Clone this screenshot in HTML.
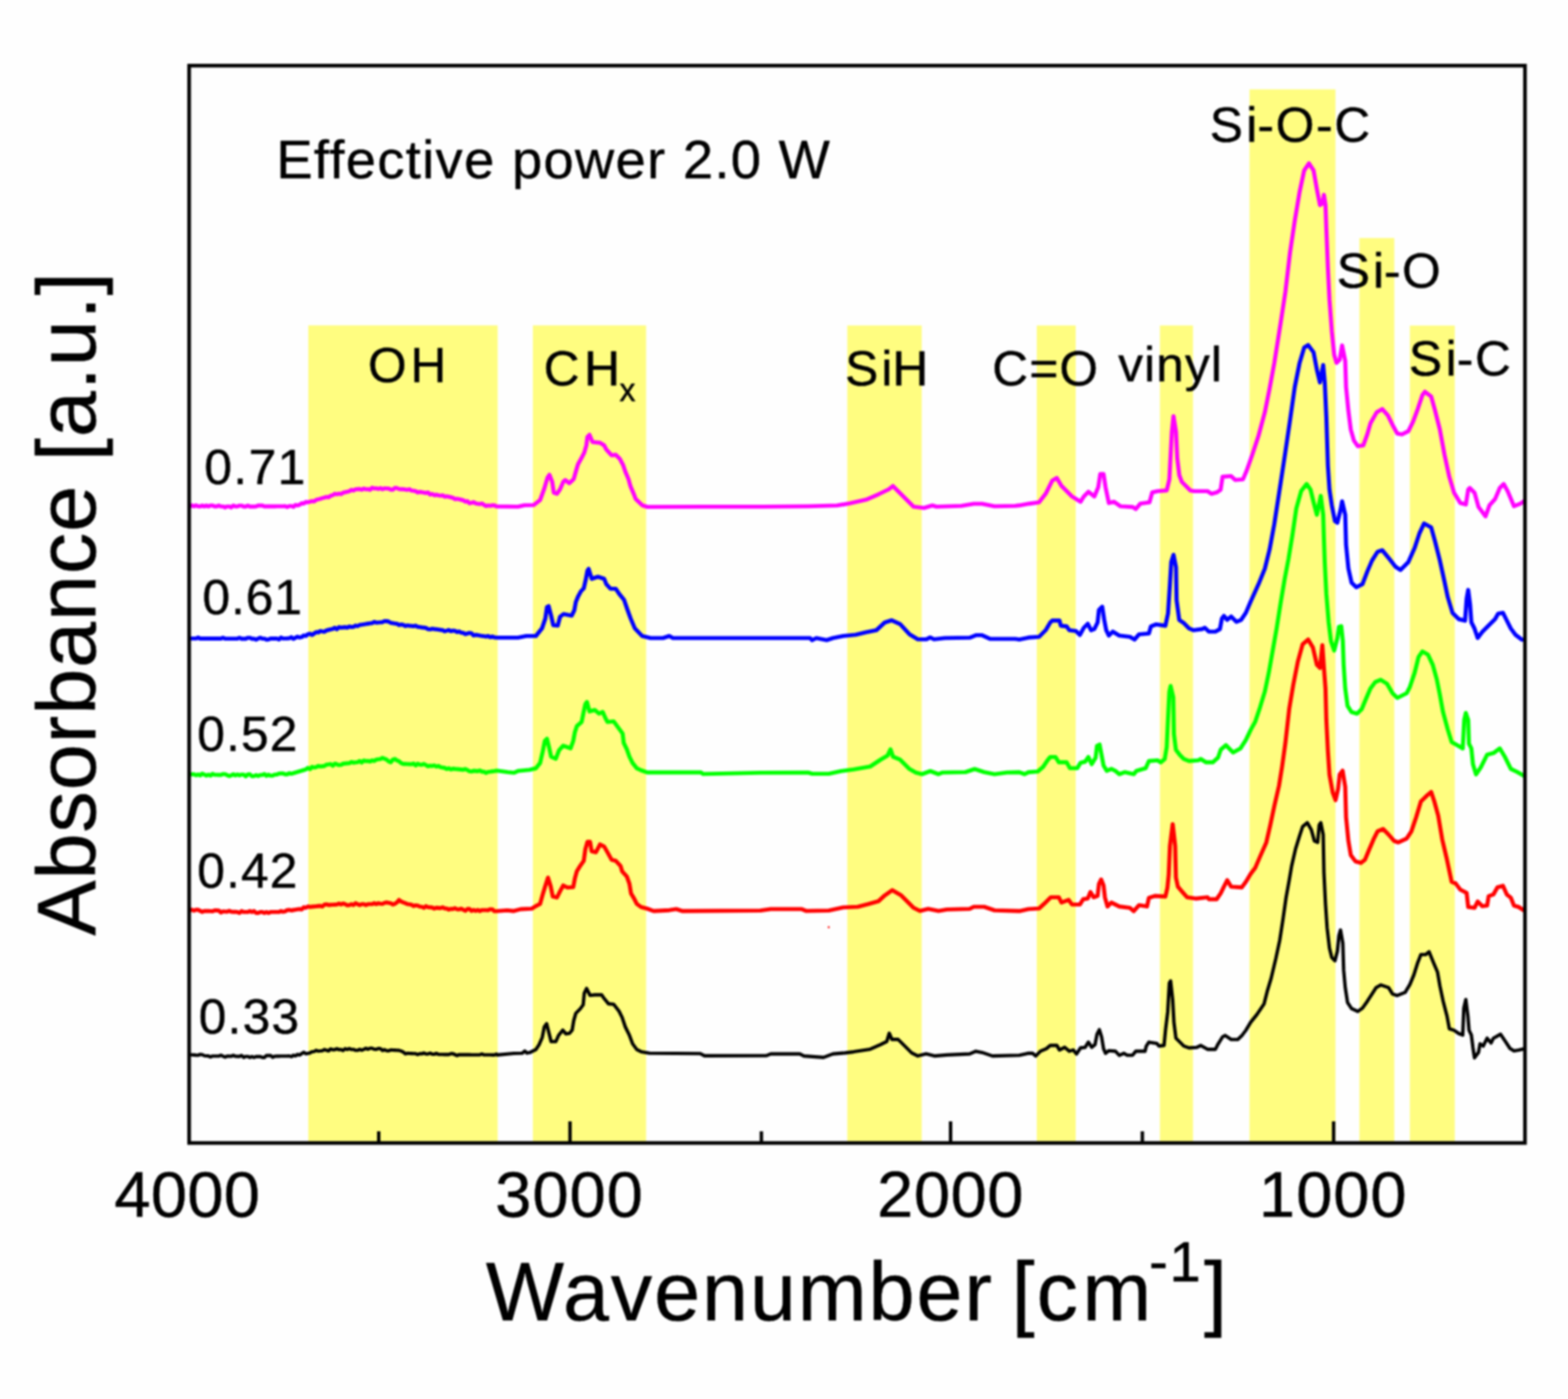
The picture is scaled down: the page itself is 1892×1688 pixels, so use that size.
<!DOCTYPE html>
<html lang="en"><head><meta charset="utf-8"><title>FTIR absorbance spectra</title>
<style>html,body{margin:0;padding:0;background:#fefefe;width:1892px;height:1688px}svg{display:block;filter:blur(0.8px)}text{font-family:'Liberation Sans', sans-serif;fill:#000;stroke:#000;stroke-width:0.5px;stroke-linejoin:round}</style></head>
<body>
<svg width="1892" height="1688" viewBox="0 0 1892 1688" role="img" aria-label="FTIR absorbance spectra at effective power 2.0 W">
<rect x="0" y="0" width="1892" height="1688" fill="#fefefe"/>
<g fill="#fffd80">
<rect x="372" y="392.6" width="228.5" height="986.5"/>
<rect x="643" y="392.6" width="136.6" height="986.5"/>
<rect x="1022.4" y="392.7" width="89.8" height="986.4"/>
<rect x="1251" y="392.7" width="47.0" height="986.4"/>
<rect x="1399.6" y="392.7" width="39.9" height="986.4"/>
<rect x="1507.7" y="107.8" width="103.7" height="1271.3"/>
<rect x="1640.3" y="287.2" width="42.1" height="1091.9"/>
<rect x="1701.2" y="392.8" width="54.2" height="986.3"/>
</g>
<g stroke="#000" stroke-width="4.1" fill="none">
<line x1="687.8" y1="1353" x2="687.8" y2="1379.1"/>
<line x1="1147" y1="1353" x2="1147" y2="1379.1"/>
<line x1="1609.2" y1="1353" x2="1609.2" y2="1379.1"/>
<line x1="457" y1="1365" x2="457" y2="1379.1"/>
<line x1="918.7" y1="1365" x2="918.7" y2="1379.1"/>
<line x1="1378.4" y1="1365" x2="1378.4" y2="1379.1"/>
</g>
<g>
<text x="333.5" y="215.3" font-size="65.5" letter-spacing="1.60">Effective power 2.0 W</text>
<text x="444.1" y="461" font-size="60" letter-spacing="4.50">OH</text>
<text><tspan x="656.0" y="465.3" font-size="60" letter-spacing="5.50">CH</tspan><tspan x="747.4" y="484.2" font-size="38.5">x</tspan></text>
<text x="1019.7" y="464.8" font-size="60" letter-spacing="1.90">S<tspan dx="2.0">i</tspan><tspan dx="-2.0">H</tspan></text>
<text x="1197.3" y="464.9" font-size="60" letter-spacing="1.30">C=O</text>
<text x="1349.2" y="459.7" font-size="60" letter-spacing="1.30">vinyl</text>
<text x="1459.7" y="170.9" font-size="60" letter-spacing="2.06">S<tspan dx="2.0">i</tspan><tspan dx="-2.0">-O-C</tspan></text>
<text x="1613.0" y="347.2" font-size="60" letter-spacing="1.83">S<tspan dx="2.0">i</tspan><tspan dx="-2.0">-O</tspan></text>
<text x="1700.0" y="453.4" font-size="60" letter-spacing="2.17">S<tspan dx="2.0">i</tspan><tspan dx="-2.0">-C</tspan></text>
<text x="246.6" y="583.6" font-size="60" letter-spacing="1.65">0.71</text>
<text x="244.3" y="741.1" font-size="60" letter-spacing="1.10">0.61</text>
<text x="238.0" y="906.1" font-size="60" letter-spacing="1.33">0.52</text>
<text x="238.0" y="1071.1" font-size="60" letter-spacing="1.33">0.42</text>
<text x="239.8" y="1247.1" font-size="60" letter-spacing="1.43">0.33</text>
<text x="138.0" y="1468.2" font-size="78.5" letter-spacing="0.33">4000</text>
<text x="597.6" y="1468.2" font-size="78.5" letter-spacing="1.13">3000</text>
<text x="1058.3" y="1468.2" font-size="78.5" letter-spacing="0.70">2000</text>
<text x="1519.1" y="1468.2" font-size="78.5" letter-spacing="1.15">1000</text>
<text><tspan x="586.3" y="1593.2" font-size="100" letter-spacing="2.18">Wavenumber </tspan><tspan x="1220.7" y="1593.2" font-size="100">[</tspan><tspan x="1250.7" y="1593.2" font-size="100" letter-spacing="5.40">cm</tspan><tspan x="1386.5" y="1546" font-size="68">-</tspan><tspan x="1411.0" y="1546" font-size="68">1</tspan><tspan x="1452.7" y="1593.2" font-size="100">]</tspan></text>
<text transform="translate(115.2,1129.0) rotate(-90)" font-size="100" letter-spacing="1.03">Absorbance [a.u.]</text>
</g>
<g fill="none" stroke-linejoin="round" stroke-linecap="butt">
<path d="M228.0,1272.4 L229.0,1272.5 L231.5,1272.7 L234.0,1272.9 L236.5,1273.1 L239.0,1273.2 L241.5,1272.3 L244.0,1272.5 L246.5,1273.8 L249.0,1274.0 L251.5,1274.1 L254.0,1275.3 L256.5,1274.2 L259.0,1274.2 L261.5,1274.2 L264.0,1274.3 L266.5,1273.2 L269.0,1274.3 L271.5,1275.5 L274.0,1274.4 L276.5,1274.4 L279.0,1274.5 L281.5,1273.4 L284.0,1274.5 L286.5,1274.6 L289.0,1274.6 L291.5,1273.5 L294.0,1275.8 L296.5,1274.7 L299.0,1274.7 L301.5,1275.9 L304.0,1274.8 L306.5,1275.9 L309.0,1274.9 L311.5,1274.9 L314.0,1274.9 L316.5,1275.9 L319.0,1275.9 L321.5,1273.6 L324.0,1273.6 L326.5,1273.5 L329.0,1275.6 L331.5,1274.5 L334.0,1274.4 L336.5,1274.4 L339.0,1274.3 L341.5,1274.3 L344.0,1274.2 L346.5,1274.2 L349.0,1274.1 L351.5,1274.9 L354.0,1273.3 L356.5,1273.9 L359.0,1272.3 L361.5,1272.9 L364.0,1271.3 L366.5,1269.7 L369.0,1271.4 L371.5,1270.9 L374.0,1270.4 L376.5,1269.0 L379.0,1268.7 L381.5,1267.4 L384.0,1268.2 L386.5,1268.0 L389.0,1267.7 L391.5,1266.4 L394.0,1267.2 L396.5,1268.0 L399.0,1265.6 L401.5,1266.6 L404.0,1266.5 L406.5,1265.4 L409.0,1266.5 L411.5,1266.4 L414.0,1267.5 L416.5,1265.3 L419.0,1266.3 L421.5,1265.2 L424.0,1266.3 L426.5,1266.2 L429.0,1267.3 L431.5,1267.3 L434.0,1266.1 L436.5,1267.2 L439.0,1266.1 L441.5,1264.9 L444.0,1266.0 L446.5,1264.8 L449.0,1264.8 L451.5,1266.0 L454.0,1266.1 L456.5,1265.1 L459.0,1265.2 L461.5,1267.5 L464.0,1266.5 L466.5,1267.8 L469.0,1267.9 L471.5,1266.9 L474.0,1267.0 L476.5,1267.1 L479.0,1267.2 L481.5,1267.4 L484.0,1268.1 L486.5,1269.3 L489.0,1271.5 L491.5,1270.9 L494.0,1271.0 L496.5,1271.1 L499.0,1271.2 L501.5,1271.3 L504.0,1272.4 L506.5,1271.4 L509.0,1271.5 L511.5,1270.5 L514.0,1271.7 L516.5,1271.7 L519.0,1270.7 L521.5,1271.9 L524.0,1272.0 L526.5,1271.0 L529.0,1272.1 L531.5,1272.2 L534.0,1272.3 L536.5,1272.4 L539.0,1272.4 L541.5,1272.4 L544.0,1271.4 L546.5,1271.4 L549.0,1272.5 L551.5,1273.6 L554.0,1272.5 L556.5,1272.6 L559.0,1272.6 L561.5,1272.6 L564.0,1272.6 L566.5,1272.6 L569.0,1272.7 L571.5,1272.7 L574.0,1272.7 L576.5,1272.7 L579.0,1272.7 L581.5,1271.7 L584.0,1272.8 L586.5,1272.8 L589.0,1272.8 L591.5,1272.8 L594.0,1272.9 L596.5,1272.9 L599.0,1271.8 L600.0,1272.9 L620.0,1271.0 L630.0,1270.8 L633.3,1268.2 L636.0,1270.6 L639.0,1270.1 L646.6,1266.4 L650.4,1260.6 L654.3,1251.7 L656.8,1239.0 L659.6,1235.2 L662.5,1246.7 L665.0,1256.8 L670.7,1256.8 L674.0,1249.2 L679.0,1242.9 L682.8,1247.4 L687.2,1246.7 L690.4,1242.9 L692.3,1231.4 L694.8,1222.6 L700.0,1217.4 L703.7,1212.4 L705.0,1198.4 L707.8,1192.7 L712.0,1201.0 L717.7,1200.4 L726.0,1200.4 L729.0,1204.8 L734.2,1211.1 L740.5,1211.8 L746.9,1220.0 L750.7,1227.6 L754.5,1239.0 L759.5,1249.2 L763.3,1259.4 L768.4,1266.4 L773.5,1268.9 L783.6,1270.8 L845.0,1271.2 L850.0,1273.9 L925.0,1273.6 L930.0,1271.6 L965.0,1271.6 L970.0,1274.1 L993.7,1275.9 L1005.0,1271.6 L1020.0,1270.4 L1030.0,1269.1 L1050.0,1265.9 L1062.5,1260.4 L1070.0,1256.6 L1073.0,1246.6 L1076.2,1254.1 L1083.7,1254.1 L1092.5,1262.9 L1100.0,1270.4 L1107.5,1274.1 L1117.5,1271.6 L1127.5,1274.1 L1142.5,1272.9 L1170.0,1271.6 L1177.5,1268.4 L1185.0,1269.9 L1197.5,1274.1 L1230.0,1273.3 L1240.3,1270.9 L1245.9,1270.9 L1249.8,1274.1 L1255.4,1268.4 L1262.5,1265.4 L1267.3,1261.4 L1275.2,1261.4 L1278.4,1266.9 L1284.8,1263.7 L1290.3,1268.4 L1295.0,1266.9 L1299.0,1271.7 L1303.8,1264.4 L1309.4,1263.7 L1313.3,1257.4 L1317.3,1263.7 L1321.3,1260.4 L1323.7,1247.9 L1326.5,1242.4 L1329.2,1251.0 L1331.6,1265.4 L1334.0,1270.9 L1338.0,1267.7 L1345.9,1268.4 L1350.6,1273.3 L1356.2,1270.9 L1360.2,1273.3 L1366.5,1273.3 L1370.5,1268.4 L1381.6,1268.4 L1383.2,1262.1 L1386.3,1257.4 L1395.9,1259.0 L1398.3,1262.1 L1404.6,1261.4 L1406.5,1241.4 L1409.0,1220.9 L1411.0,1186.0 L1412.5,1183.6 L1415.0,1206.6 L1416.5,1233.6 L1418.9,1252.6 L1423.7,1257.4 L1428.4,1262.1 L1434.8,1264.4 L1444.3,1263.7 L1449.0,1261.4 L1457.0,1266.1 L1466.5,1266.1 L1469.7,1259.8 L1475.2,1251.0 L1478.4,1249.4 L1485.6,1254.2 L1493.5,1254.2 L1499.0,1248.9 L1503.3,1243.1 L1509.0,1233.6 L1516.6,1224.1 L1525.2,1211.4 L1529.0,1196.4 L1533.8,1180.4 L1539.5,1156.4 L1544.2,1134.4 L1548.0,1109.7 L1551.8,1083.1 L1555.6,1062.1 L1558.5,1045.0 L1563.3,1024.1 L1568.0,1008.9 L1571.8,997.4 L1577.5,992.7 L1582.3,1001.2 L1586.0,1014.6 L1589.9,1016.4 L1591.8,995.4 L1593.7,992.7 L1596.6,1007.0 L1597.5,1052.6 L1599.4,1090.7 L1601.3,1119.2 L1604.2,1143.9 L1607.0,1155.4 L1610.8,1159.2 L1613.7,1147.8 L1615.6,1128.7 L1617.5,1122.1 L1620.3,1138.2 L1621.3,1170.4 L1623.2,1191.4 L1626.0,1209.7 L1630.8,1216.9 L1638.4,1220.4 L1644.0,1216.4 L1649.8,1208.2 L1655.5,1199.4 L1660.3,1191.8 L1666.0,1188.4 L1675.5,1191.6 L1680.3,1199.4 L1686.0,1201.2 L1695.5,1197.4 L1701.2,1187.9 L1706.0,1176.4 L1710.7,1161.4 L1714.5,1151.8 L1720.2,1151.8 L1724.4,1148.4 L1729.7,1161.4 L1734.5,1172.7 L1737.4,1189.4 L1741.2,1207.4 L1746.0,1226.0 L1748.8,1241.2 L1754.5,1243.1 L1760.2,1247.0 L1765.0,1248.9 L1766.3,1216.4 L1768.7,1206.0 L1771.2,1226.0 L1772.6,1243.1 L1775.4,1248.9 L1777.3,1264.1 L1779.2,1276.4 L1784.0,1269.8 L1785.9,1259.4 L1789.7,1262.2 L1794.4,1252.7 L1799.2,1258.4 L1802.0,1252.7 L1810.6,1247.9 L1816.3,1256.4 L1822.0,1265.0 L1826.8,1267.9 L1832.5,1266.9 L1841.0,1265.0" stroke="#000000" stroke-width="4.1"/>
<path d="M228.0,1098.6 L229.0,1098.6 L231.5,1097.6 L234.0,1098.8 L236.5,1097.8 L239.0,1097.8 L241.5,1099.0 L244.0,1100.2 L246.5,1099.2 L249.0,1099.2 L251.5,1099.3 L254.0,1099.4 L256.5,1099.5 L259.0,1098.4 L261.5,1098.5 L264.0,1098.6 L266.5,1100.9 L269.0,1099.8 L271.5,1099.9 L274.0,1100.0 L276.5,1099.0 L279.0,1100.1 L281.5,1100.2 L284.0,1100.3 L286.5,1100.4 L289.0,1101.5 L291.5,1099.3 L294.0,1100.4 L296.5,1100.4 L299.0,1100.4 L301.5,1099.3 L304.0,1100.4 L306.5,1099.3 L309.0,1101.5 L311.5,1101.5 L314.0,1100.4 L316.5,1100.4 L319.0,1101.5 L321.5,1100.4 L324.0,1101.5 L326.5,1100.4 L329.0,1100.4 L331.5,1100.4 L334.0,1100.4 L336.5,1100.4 L339.0,1099.3 L341.5,1100.1 L344.0,1099.7 L346.5,1098.2 L349.0,1097.8 L351.5,1098.5 L354.0,1098.0 L356.5,1097.6 L359.0,1097.2 L361.5,1096.8 L364.0,1097.4 L366.5,1094.7 L369.0,1095.3 L371.5,1093.7 L374.0,1094.3 L376.5,1094.0 L379.0,1093.7 L381.5,1093.5 L384.0,1093.2 L386.5,1093.0 L389.0,1093.8 L391.5,1091.4 L394.0,1091.1 L396.5,1092.0 L399.0,1091.7 L401.5,1091.6 L404.0,1091.5 L406.5,1091.4 L409.0,1090.2 L411.5,1091.3 L414.0,1090.1 L416.5,1091.1 L419.0,1092.2 L421.5,1092.1 L424.0,1090.9 L426.5,1092.0 L429.0,1089.8 L431.5,1090.9 L434.0,1092.0 L436.5,1090.9 L439.0,1090.9 L441.5,1092.0 L444.0,1090.9 L446.5,1090.9 L449.0,1090.9 L451.5,1089.8 L454.0,1090.9 L456.5,1089.8 L459.0,1090.4 L461.5,1090.6 L464.0,1089.4 L466.5,1088.8 L469.0,1089.3 L471.5,1089.8 L474.0,1091.4 L476.5,1090.5 L479.0,1088.8 L481.5,1085.9 L484.0,1087.8 L486.5,1088.8 L489.0,1089.7 L491.5,1090.8 L494.0,1091.2 L496.5,1091.7 L499.0,1093.2 L501.5,1092.4 L504.0,1092.6 L506.5,1093.9 L509.0,1094.1 L511.5,1095.3 L514.0,1093.3 L516.5,1094.6 L519.0,1094.8 L521.5,1095.0 L524.0,1096.2 L526.5,1095.3 L529.0,1095.5 L531.5,1095.7 L534.0,1094.8 L536.5,1096.0 L539.0,1096.2 L541.5,1097.5 L544.0,1096.6 L546.5,1096.8 L549.0,1095.8 L551.5,1097.1 L554.0,1097.3 L556.5,1096.4 L559.0,1097.7 L561.5,1098.9 L564.0,1096.8 L566.5,1096.8 L569.0,1099.1 L571.5,1098.0 L574.0,1099.1 L576.5,1098.0 L579.0,1099.2 L581.5,1098.1 L584.0,1098.1 L586.5,1098.1 L589.0,1098.2 L591.5,1097.1 L594.0,1097.1 L596.5,1099.3 L599.0,1099.4 L612.0,1098.4 L620.0,1099.2 L628.2,1097.0 L641.6,1096.4 L646.6,1093.2 L651.7,1090.6 L654.9,1079.2 L658.0,1069.0 L661.2,1058.9 L664.4,1069.0 L667.0,1081.7 L672.0,1083.0 L675.8,1075.4 L679.6,1068.4 L684.7,1070.9 L691.7,1070.4 L693.6,1060.2 L696.0,1051.3 L700.0,1044.9 L704.4,1038.6 L706.3,1024.6 L708.8,1015.8 L712.0,1015.8 L713.9,1027.2 L719.0,1028.4 L724.0,1018.9 L729.0,1021.4 L733.0,1028.4 L738.0,1037.4 L743.0,1038.6 L748.8,1044.9 L750.7,1051.3 L756.4,1057.6 L759.5,1066.4 L761.4,1077.9 L765.2,1084.3 L768.4,1090.6 L773.5,1094.4 L781.0,1096.4 L788.7,1099.2 L807.7,1098.2 L816.0,1096.9 L823.0,1099.2 L917.5,1098.6 L930.0,1096.9 L967.5,1096.9 L972.5,1099.1 L1000.0,1098.6 L1017.5,1094.9 L1035.0,1094.1 L1047.5,1090.9 L1060.0,1087.4 L1067.5,1080.4 L1076.7,1074.1 L1087.5,1080.4 L1095.0,1087.9 L1102.5,1095.4 L1110.0,1099.1 L1120.0,1096.6 L1132.5,1099.1 L1142.5,1097.4 L1170.0,1096.6 L1175.0,1094.1 L1187.5,1094.1 L1200.0,1098.4 L1230.0,1099.3 L1241.0,1096.9 L1253.8,1096.1 L1260.0,1090.4 L1268.0,1082.6 L1277.6,1082.6 L1280.8,1089.0 L1289.5,1085.8 L1293.5,1091.4 L1303.0,1091.4 L1307.0,1085.0 L1312.5,1084.2 L1315.7,1076.3 L1319.7,1082.6 L1324.4,1081.0 L1326.0,1066.7 L1328.7,1061.2 L1331.6,1068.4 L1333.2,1082.6 L1336.3,1093.7 L1341.0,1089.0 L1350.6,1093.7 L1363.3,1095.4 L1368.0,1099.3 L1374.4,1092.1 L1384.0,1093.7 L1386.3,1083.4 L1393.5,1081.0 L1406.2,1081.8 L1408.6,1071.4 L1410.2,1055.6 L1411.7,1020.7 L1415.0,994.4 L1418.0,1020.7 L1418.9,1058.8 L1421.3,1069.9 L1426.8,1076.3 L1432.4,1082.6 L1442.7,1084.2 L1457.0,1082.6 L1458.6,1085.0 L1468.0,1085.0 L1472.9,1077.9 L1476.8,1069.9 L1480.8,1062.0 L1485.6,1069.9 L1498.3,1070.7 L1503.3,1064.0 L1509.0,1054.4 L1514.7,1046.9 L1520.4,1033.6 L1528.0,1016.4 L1532.8,995.4 L1537.6,972.7 L1543.3,948.0 L1547.0,925.1 L1551.0,896.4 L1555.6,855.4 L1560.4,826.9 L1566.0,798.4 L1571.8,777.4 L1578.5,771.7 L1584.2,781.2 L1589.0,802.1 L1592.7,805.9 L1595.6,778.4 L1597.5,805.9 L1599.4,830.7 L1600.4,868.7 L1602.3,906.4 L1604.2,934.9 L1608.0,955.9 L1611.5,965.4 L1614.6,951.8 L1616.5,934.4 L1620.0,929.9 L1623.2,949.4 L1624.2,986.0 L1627.0,1014.4 L1629.9,1031.7 L1635.6,1039.4 L1642.2,1041.2 L1647.0,1037.4 L1651.7,1026.0 L1657.4,1012.7 L1662.2,1003.1 L1668.9,1000.3 L1675.5,1007.0 L1682.2,1014.6 L1687.0,1016.4 L1697.4,1011.7 L1703.0,1003.1 L1708.8,986.0 L1714.5,967.0 L1721.2,960.4 L1726.9,955.6 L1730.7,967.0 L1735.4,984.1 L1740.2,1012.7 L1746.0,1037.4 L1751.6,1064.0 L1756.4,1065.9 L1762.0,1073.4 L1769.7,1077.4 L1771.6,1094.4 L1779.2,1095.4 L1783.0,1087.8 L1788.7,1093.4 L1794.4,1092.6 L1796.3,1081.2 L1802.0,1079.3 L1806.8,1070.7 L1813.5,1068.8 L1818.2,1079.3 L1823.0,1083.1 L1826.8,1092.6 L1832.5,1094.4 L1841.0,1099.9" stroke="#ff0000" stroke-width="4.9"/>
<path d="M228.0,934.1 L229.0,934.1 L231.5,934.2 L234.0,934.2 L236.5,935.4 L239.0,934.4 L241.5,935.5 L244.0,933.4 L246.5,934.6 L249.0,935.7 L251.5,934.7 L254.0,935.8 L256.5,933.7 L259.0,934.9 L261.5,934.9 L264.0,935.0 L266.5,935.1 L269.0,934.0 L271.5,934.1 L274.0,935.2 L276.5,936.4 L279.0,935.4 L281.5,934.3 L284.0,935.5 L286.5,934.5 L289.0,935.6 L291.5,934.6 L294.0,934.6 L296.5,936.7 L299.0,934.4 L301.5,934.3 L304.0,936.5 L306.5,936.4 L309.0,935.2 L311.5,936.3 L314.0,935.1 L316.5,935.0 L319.0,933.9 L321.5,936.0 L324.0,934.8 L326.5,935.9 L329.0,935.8 L331.5,934.6 L334.0,934.5 L336.5,933.4 L339.0,933.3 L341.5,933.2 L344.0,934.3 L346.5,934.2 L349.0,933.0 L351.5,933.6 L354.0,932.9 L356.5,932.1 L359.0,931.4 L361.5,930.6 L364.0,929.9 L366.5,929.1 L369.0,928.4 L371.5,926.5 L374.0,928.0 L376.5,925.3 L379.0,926.0 L381.5,925.6 L384.0,924.2 L386.5,924.9 L389.0,924.5 L391.5,924.2 L394.0,922.7 L396.5,922.3 L399.0,921.9 L401.5,923.9 L404.0,921.4 L406.5,922.2 L409.0,923.1 L411.5,922.9 L414.0,921.5 L416.5,921.2 L419.0,921.0 L421.5,920.8 L424.0,919.4 L426.5,920.2 L429.0,919.9 L431.5,919.6 L434.0,918.2 L436.5,920.1 L439.0,917.6 L441.5,918.4 L444.0,918.1 L446.5,918.9 L449.0,917.5 L451.5,918.2 L454.0,916.7 L456.5,916.2 L459.0,915.8 L461.5,914.5 L464.0,915.5 L466.5,916.6 L469.0,918.7 L471.5,919.7 L474.0,916.6 L476.5,915.8 L479.0,917.5 L481.5,918.5 L484.0,920.7 L486.5,921.7 L489.0,921.8 L491.5,921.9 L494.0,922.0 L496.5,922.1 L499.0,921.2 L501.5,923.5 L504.0,921.4 L506.5,922.6 L509.0,922.7 L511.5,921.8 L514.0,923.1 L516.5,924.6 L519.0,923.9 L521.5,924.2 L524.0,923.5 L526.5,925.0 L529.0,924.2 L531.5,925.7 L534.0,926.1 L536.5,926.5 L539.0,927.9 L541.5,927.0 L544.0,928.4 L546.5,927.5 L549.0,927.8 L551.5,928.0 L554.0,928.2 L556.5,928.5 L559.0,928.8 L561.5,927.9 L564.0,929.2 L566.5,930.6 L569.0,930.9 L571.5,930.0 L574.0,930.2 L576.5,930.5 L579.0,929.6 L581.5,931.0 L584.0,931.2 L586.5,932.6 L589.0,931.4 L591.5,931.1 L594.0,930.7 L596.5,930.4 L599.0,930.0 L600.0,929.9 L612.5,931.6 L620.0,932.4 L625.7,930.1 L639.0,928.9 L646.6,927.0 L651.7,920.6 L654.9,906.7 L657.4,894.0 L660.0,891.4 L662.5,901.6 L665.0,913.0 L670.7,915.4 L674.5,905.4 L679.6,899.7 L688.5,902.9 L691.7,894.0 L693.6,883.8 L696.0,876.2 L701.8,871.1 L704.4,858.4 L706.3,849.6 L708.2,847.0 L711.3,858.4 L717.7,856.6 L722.8,861.0 L727.2,859.1 L731.0,867.4 L733.0,871.1 L740.5,870.4 L745.6,877.4 L751.3,885.1 L752.6,896.4 L756.4,904.1 L759.5,913.0 L763.3,920.6 L768.4,927.0 L773.5,929.4 L781.0,932.0 L845.8,932.0 L848.3,933.9 L917.5,932.4 L975.0,932.1 L980.0,933.6 L1000.0,933.6 L1015.0,930.4 L1030.0,928.4 L1050.0,924.9 L1062.5,916.6 L1071.0,911.6 L1074.5,904.1 L1077.5,912.9 L1086.0,916.6 L1097.5,927.9 L1105.0,932.1 L1112.5,934.1 L1122.5,930.4 L1132.5,934.1 L1137.5,932.1 L1165.0,931.6 L1176.0,927.9 L1187.5,931.6 L1200.0,934.1 L1215.0,932.1 L1230.0,931.7 L1236.3,934.1 L1241.0,931.7 L1252.2,930.9 L1258.6,925.4 L1264.0,917.4 L1267.3,913.4 L1273.7,913.4 L1277.6,919.8 L1287.0,919.8 L1291.0,926.9 L1299.8,926.9 L1303.8,920.4 L1309.4,919.0 L1313.3,913.4 L1317.3,922.1 L1322.0,914.2 L1323.7,899.9 L1326.8,898.4 L1329.2,911.0 L1331.6,923.7 L1335.6,930.1 L1341.0,927.7 L1345.9,930.1 L1350.6,934.1 L1357.0,931.7 L1368.0,934.1 L1371.3,930.1 L1382.4,926.9 L1386.3,918.2 L1396.7,917.4 L1400.6,919.8 L1405.4,915.8 L1407.8,901.4 L1409.4,866.6 L1411.0,834.8 L1412.5,827.7 L1415.7,841.2 L1416.5,885.6 L1418.9,904.7 L1423.7,911.0 L1428.4,915.8 L1434.8,918.2 L1445.9,917.4 L1449.0,915.8 L1455.4,919.8 L1463.3,919.8 L1469.7,914.2 L1472.9,904.7 L1479.2,899.1 L1484.0,903.9 L1488.0,907.9 L1496.7,903.1 L1503.3,892.9 L1509.0,880.9 L1514.7,870.6 L1520.4,853.4 L1526.2,834.4 L1531.0,811.6 L1535.7,785.0 L1540.4,758.4 L1545.2,727.9 L1550.0,699.4 L1554.7,674.6 L1559.4,646.1 L1564.2,613.4 L1570.0,592.6 L1576.6,584.0 L1581.3,590.7 L1585.0,605.9 L1589.0,621.1 L1593.7,598.3 L1596.6,621.1 L1597.5,650.4 L1598.5,678.4 L1600.4,716.4 L1603.2,750.8 L1606.0,773.6 L1609.9,785.0 L1613.7,769.8 L1615.6,756.4 L1618.4,755.5 L1620.3,773.6 L1621.3,802.1 L1623.2,830.7 L1626.0,851.6 L1630.8,859.2 L1637.5,861.1 L1643.2,855.4 L1647.9,844.0 L1653.6,830.7 L1659.3,823.1 L1666.0,820.2 L1673.6,825.0 L1680.3,836.4 L1686.0,842.1 L1697.4,836.4 L1701.2,828.8 L1707.0,811.6 L1711.7,792.6 L1716.4,786.0 L1723.0,789.8 L1728.8,802.1 L1733.6,819.3 L1737.4,838.3 L1741.2,859.2 L1746.9,880.1 L1751.6,895.4 L1758.3,899.2 L1765.0,903.0 L1766.8,868.7 L1768.7,860.2 L1771.6,868.7 L1772.5,897.3 L1775.4,903.0 L1777.3,922.0 L1781.0,934.4 L1786.8,925.8 L1794.4,910.6 L1802.0,908.7 L1809.7,903.0 L1815.4,912.4 L1823.0,927.7 L1830.6,931.4 L1841.0,937.4" stroke="#00ff00" stroke-width="4.9"/>
<path d="M228.0,770.4 L229.0,770.4 L231.5,770.4 L234.0,770.4 L236.5,770.4 L239.0,769.3 L241.5,770.5 L244.0,770.5 L246.5,770.5 L249.0,770.5 L251.5,770.5 L254.0,770.5 L256.5,770.5 L259.0,770.5 L261.5,770.5 L264.0,770.5 L266.5,770.6 L269.0,769.5 L271.5,770.6 L274.0,770.6 L276.5,770.6 L279.0,770.6 L281.5,770.6 L284.0,770.6 L286.5,770.6 L289.0,769.6 L291.5,770.7 L294.0,770.7 L296.5,770.7 L299.0,769.6 L301.5,769.6 L304.0,770.7 L306.5,770.7 L309.0,771.7 L311.5,770.6 L314.0,769.5 L316.5,770.6 L319.0,770.6 L321.5,771.7 L324.0,771.6 L326.5,770.5 L329.0,770.5 L331.5,770.5 L334.0,770.5 L336.5,771.6 L339.0,769.3 L341.5,770.4 L344.0,770.4 L346.5,770.3 L349.0,770.1 L351.5,768.8 L354.0,770.8 L356.5,769.5 L359.0,768.3 L361.5,769.2 L364.0,768.7 L366.5,766.8 L369.0,767.2 L371.5,765.3 L374.0,764.6 L376.5,766.1 L379.0,764.4 L381.5,762.7 L384.0,763.1 L386.5,761.4 L389.0,761.9 L391.5,762.3 L394.0,760.6 L396.5,760.0 L399.0,759.4 L401.5,758.9 L404.0,757.4 L406.5,759.2 L409.0,756.7 L411.5,757.4 L414.0,757.0 L416.5,756.7 L419.0,757.4 L421.5,755.9 L424.0,756.6 L426.5,756.3 L429.0,754.8 L431.5,755.5 L434.0,754.0 L436.5,753.7 L439.0,753.3 L441.5,752.9 L444.0,752.5 L446.5,752.1 L449.0,751.8 L451.5,750.4 L454.0,751.3 L456.5,751.1 L459.0,750.9 L461.5,750.7 L464.0,749.4 L466.5,749.5 L469.0,750.0 L471.5,751.5 L474.0,751.9 L476.5,752.3 L479.0,752.7 L481.5,754.2 L484.0,753.5 L486.5,753.9 L489.0,755.4 L491.5,754.6 L494.0,755.0 L496.5,755.3 L499.0,755.6 L501.5,754.9 L504.0,756.3 L506.5,756.6 L509.0,757.0 L511.5,757.3 L514.0,757.6 L516.5,759.1 L519.0,759.4 L521.5,758.6 L524.0,759.0 L526.5,759.3 L529.0,759.6 L531.5,760.0 L534.0,760.3 L536.5,761.7 L539.0,761.0 L541.5,760.2 L544.0,761.6 L546.5,760.9 L549.0,761.2 L551.5,762.6 L554.0,761.9 L556.5,763.3 L559.0,763.6 L561.5,765.1 L564.0,764.4 L566.5,763.7 L569.0,764.1 L571.5,766.7 L574.0,766.0 L576.5,766.4 L579.0,766.9 L581.5,767.3 L584.0,767.7 L586.5,768.1 L589.0,767.4 L591.5,768.9 L594.0,768.0 L596.5,769.1 L599.0,769.2 L625.0,769.4 L635.0,767.4 L646.6,767.4 L654.0,758.1 L658.0,746.4 L660.0,732.4 L662.0,731.4 L665.0,742.9 L667.6,754.4 L673.0,754.9 L675.8,744.1 L680.0,740.9 L689.8,742.9 L693.0,736.4 L694.8,726.4 L697.4,720.0 L701.0,713.4 L704.4,709.9 L707.0,698.4 L708.8,688.4 L710.3,686.4 L714.0,698.4 L721.5,695.9 L729.0,698.4 L731.6,704.8 L736.7,710.4 L743.0,710.4 L747.0,716.4 L753.0,723.8 L757.0,735.4 L761.0,746.4 L766.0,758.1 L774.8,767.4 L785.0,769.9 L800.0,769.9 L807.5,767.4 L812.0,769.9 L900.0,769.9 L977.5,769.9 L980.0,772.4 L985.0,769.9 L997.5,772.4 L1005.0,769.9 L1017.5,767.4 L1032.5,765.9 L1045.0,762.9 L1057.5,760.4 L1067.5,751.1 L1076.0,748.4 L1086.0,752.9 L1097.5,765.4 L1107.5,771.4 L1117.5,771.4 L1122.5,769.1 L1127.0,771.4 L1140.0,769.9 L1170.0,769.4 L1177.5,766.4 L1185.0,766.4 L1195.0,770.9 L1225.0,770.9 L1230.0,771.7 L1241.0,769.3 L1253.8,768.4 L1261.7,760.4 L1267.3,751.0 L1269.7,748.7 L1278.4,748.7 L1280.0,755.0 L1287.0,755.8 L1290.3,760.4 L1298.3,761.4 L1303.0,766.1 L1307.8,757.4 L1312.5,752.6 L1316.5,760.4 L1320.5,759.0 L1324.4,751.0 L1326.0,736.0 L1330.0,732.0 L1332.4,747.9 L1334.8,760.4 L1338.0,766.9 L1342.7,762.1 L1350.6,766.9 L1363.3,768.4 L1369.0,771.7 L1374.4,765.4 L1386.3,764.4 L1388.7,755.8 L1395.0,753.4 L1406.2,755.0 L1409.4,739.9 L1411.7,705.0 L1413.3,678.0 L1416.0,669.4 L1419.0,684.4 L1419.7,724.1 L1422.9,747.9 L1428.4,751.8 L1434.8,758.2 L1440.3,760.4 L1450.6,759.0 L1453.8,757.4 L1458.6,762.1 L1466.5,762.1 L1472.0,759.0 L1474.4,746.3 L1476.8,743.1 L1480.8,747.9 L1485.6,743.9 L1491.9,750.2 L1497.6,747.9 L1503.3,739.4 L1509.0,726.0 L1518.5,705.1 L1526.2,686.1 L1531.9,663.2 L1537.6,632.4 L1545.2,583.1 L1551.0,545.0 L1556.6,507.0 L1562.3,467.0 L1568.0,438.4 L1573.7,419.4 L1578.5,416.4 L1585.0,425.1 L1589.0,446.1 L1592.7,461.4 L1596.6,440.4 L1598.5,461.4 L1600.4,503.1 L1602.3,562.1 L1604.2,590.7 L1607.0,609.7 L1610.8,628.7 L1613.7,630.6 L1617.5,615.4 L1619.4,604.9 L1623.2,621.1 L1624.2,657.3 L1627.0,685.8 L1630.8,702.9 L1636.5,708.6 L1644.0,704.8 L1649.8,689.6 L1655.5,676.4 L1662.2,665.8 L1667.9,663.9 L1676.5,674.4 L1684.0,683.9 L1689.8,687.7 L1699.3,678.2 L1707.0,661.1 L1712.6,643.9 L1718.3,631.6 L1726.9,636.4 L1731.6,653.4 L1737.4,676.4 L1743.0,701.9 L1746.9,720.4 L1752.6,739.4 L1760.2,747.0 L1767.8,748.9 L1769.7,722.2 L1771.6,711.8 L1773.9,729.8 L1775.4,750.8 L1779.2,758.4 L1783.0,769.8 L1788.7,762.2 L1798.2,752.7 L1804.0,747.0 L1807.8,740.3 L1813.5,739.4 L1817.3,747.0 L1823.0,758.4 L1828.7,766.0 L1836.3,771.7 L1841.0,771.9" stroke="#0000ff" stroke-width="4.9"/>
<path d="M228.0,610.9 L229.0,610.9 L231.5,609.8 L234.0,610.9 L236.5,609.8 L239.0,610.9 L241.5,611.0 L244.0,609.9 L246.5,611.0 L249.0,609.9 L251.5,611.0 L254.0,609.9 L256.5,609.9 L259.0,611.0 L261.5,611.0 L264.0,609.9 L266.5,611.1 L269.0,611.1 L271.5,612.2 L274.0,611.1 L276.5,611.1 L279.0,612.2 L281.5,610.0 L284.0,611.1 L286.5,611.1 L289.0,610.1 L291.5,610.1 L294.0,611.2 L296.5,611.2 L299.0,610.1 L301.5,611.2 L304.0,611.2 L306.5,611.2 L309.0,611.1 L311.5,610.0 L314.0,610.0 L316.5,610.0 L319.0,611.1 L321.5,611.0 L324.0,611.0 L326.5,611.0 L329.0,611.0 L331.5,611.0 L334.0,610.9 L336.5,610.9 L339.0,610.9 L341.5,610.9 L344.0,610.8 L346.5,611.8 L349.0,610.6 L351.5,610.6 L354.0,611.6 L356.5,609.3 L359.0,609.8 L361.5,609.0 L364.0,607.2 L366.5,607.5 L369.0,605.7 L371.5,606.0 L374.0,605.3 L376.5,604.6 L379.0,605.0 L381.5,603.2 L384.0,602.5 L386.5,601.8 L389.0,601.0 L391.5,600.3 L394.0,599.6 L396.5,600.0 L399.0,598.2 L401.5,597.5 L404.0,595.8 L406.5,596.3 L409.0,595.7 L411.5,596.2 L414.0,594.5 L416.5,593.9 L419.0,593.3 L421.5,592.7 L424.0,591.0 L426.5,591.8 L429.0,590.4 L431.5,590.2 L434.0,590.0 L436.5,590.8 L439.0,589.5 L441.5,590.4 L444.0,590.1 L446.5,591.0 L449.0,588.5 L451.5,589.4 L454.0,589.2 L456.5,590.0 L459.0,589.0 L461.5,590.2 L464.0,589.2 L466.5,589.4 L469.0,589.5 L471.5,590.7 L474.0,590.8 L476.5,588.7 L479.0,588.9 L481.5,590.1 L484.0,590.2 L486.5,590.3 L489.0,590.6 L491.5,591.0 L494.0,590.3 L496.5,591.8 L499.0,592.2 L501.5,592.7 L504.0,594.2 L506.5,593.5 L509.0,593.9 L511.5,594.3 L514.0,594.8 L516.5,594.1 L519.0,596.7 L521.5,596.0 L524.0,597.5 L526.5,597.0 L529.0,597.6 L531.5,598.1 L534.0,597.6 L536.5,599.3 L539.0,598.8 L541.5,599.4 L544.0,600.0 L546.5,600.6 L549.0,602.3 L551.5,601.8 L554.0,602.4 L556.5,603.0 L559.0,603.6 L561.5,605.3 L564.0,604.6 L566.5,607.2 L569.0,606.6 L571.5,605.9 L574.0,607.4 L576.5,607.8 L579.0,608.2 L581.5,607.5 L584.0,609.1 L586.5,610.6 L589.0,609.9 L591.5,610.3 L594.0,609.6 L596.5,609.8 L599.0,611.0 L625.0,611.4 L632.7,609.6 L644.0,609.4 L651.7,603.4 L656.8,589.4 L660.6,576.4 L663.0,572.9 L666.3,581.4 L668.2,594.4 L672.0,595.7 L675.8,590.4 L679.6,581.4 L682.0,579.2 L687.0,583.0 L692.3,577.9 L694.8,569.0 L697.4,560.2 L701.0,553.8 L705.0,546.2 L707.5,537.4 L708.8,527.2 L711.3,524.6 L715.0,533.4 L724.0,534.2 L729.0,537.4 L731.6,542.4 L738.0,549.4 L743.0,548.8 L748.0,553.8 L752.0,561.4 L754.5,569.0 L758.3,577.9 L760.8,586.8 L764.6,595.7 L767.0,602.0 L774.8,609.6 L781.0,611.6 L850.0,611.4 L920.0,611.4 L975.0,610.9 L1010.0,609.9 L1025.0,607.4 L1045.0,602.9 L1060.0,596.4 L1072.5,590.4 L1077.5,586.4 L1084.0,592.9 L1102.5,611.4 L1115.0,612.9 L1125.0,609.9 L1130.0,611.4 L1160.0,610.4 L1175.0,607.9 L1185.0,607.9 L1200.0,610.9 L1225.0,610.4 L1230.0,609.8 L1242.0,607.7 L1253.8,606.1 L1261.7,595.8 L1269.7,579.9 L1275.2,576.7 L1280.8,586.3 L1293.5,599.0 L1303.8,605.4 L1307.8,599.0 L1313.3,593.4 L1320.5,599.0 L1325.2,587.9 L1327.6,572.0 L1331.6,572.0 L1334.0,587.9 L1338.0,606.9 L1344.3,605.4 L1352.2,610.9 L1366.5,611.7 L1370.5,614.1 L1376.0,607.7 L1387.0,606.1 L1390.3,594.2 L1396.7,592.6 L1407.8,591.8 L1411.0,578.4 L1412.5,549.8 L1414.0,521.2 L1416.0,502.1 L1419.0,521.2 L1420.5,552.9 L1423.0,573.4 L1426.0,581.4 L1436.3,591.8 L1441.0,592.6 L1457.0,592.6 L1461.7,595.8 L1468.0,594.2 L1472.8,591.0 L1475.2,575.2 L1485.5,574.4 L1490.3,579.1 L1499.8,578.4 L1504.3,567.8 L1511.0,548.8 L1518.5,526.0 L1526.2,497.4 L1531.9,468.9 L1537.6,438.1 L1545.2,390.2 L1551.0,352.1 L1556.6,304.6 L1562.3,266.4 L1568.0,232.3 L1573.7,205.6 L1579.4,197.1 L1585.0,205.6 L1589.0,228.4 L1592.7,247.4 L1595.6,245.4 L1597.5,235.1 L1599.4,247.4 L1600.4,276.0 L1602.3,323.4 L1604.2,361.4 L1607.0,399.4 L1609.9,428.2 L1612.7,437.8 L1616.5,434.0 L1619.4,416.8 L1623.2,435.4 L1624.2,467.0 L1627.0,495.4 L1629.9,518.4 L1633.7,531.7 L1638.4,538.4 L1645.0,537.4 L1649.8,524.1 L1653.6,510.8 L1661.2,497.4 L1667.9,493.6 L1674.6,501.2 L1680.3,512.7 L1686.0,523.1 L1691.7,524.1 L1699.3,520.3 L1705.0,508.9 L1710.7,493.6 L1716.4,476.4 L1719.3,472.7 L1726.9,478.4 L1731.6,495.4 L1737.4,518.4 L1743.0,548.8 L1748.8,575.4 L1754.5,594.4 L1762.0,606.8 L1768.8,608.7 L1771.6,590.7 L1773.5,588.8 L1779.2,594.4 L1784.0,611.6 L1792.5,623.0 L1797.3,609.7 L1804.0,602.1 L1809.7,588.8 L1814.4,584.0 L1819.2,592.6 L1826.8,610.7 L1834.4,607.8 L1841.0,603.4" stroke="#ff00ff" stroke-width="4.9"/>
<circle cx="1000" cy="1118.7" r="1.2" fill="#ff0000" stroke="none"/>
</g>
<rect x="228.2" y="79.2" width="1611.9" height="1299.9" fill="none" stroke="#000" stroke-width="4.4"/>
</svg>
</body></html>
